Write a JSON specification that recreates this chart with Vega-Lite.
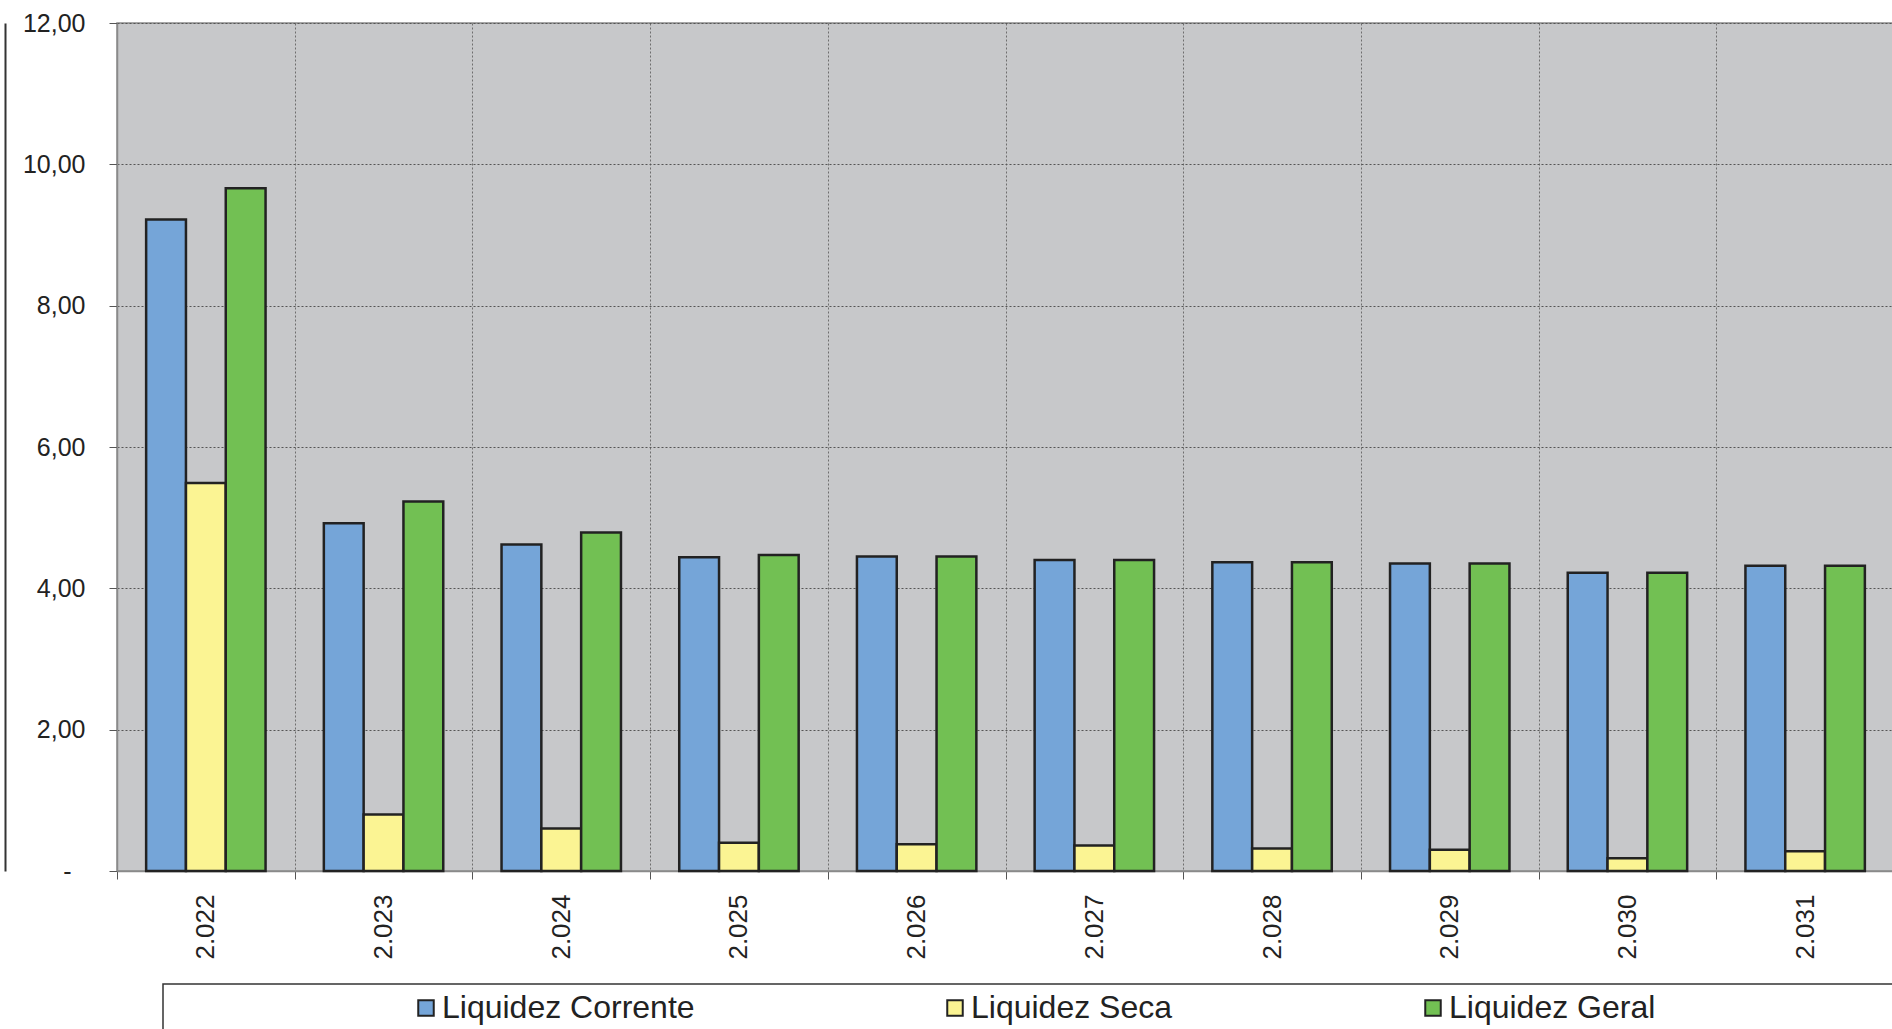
{
  "$schema": "https://vega.github.io/schema/vega-lite/v6.json",
  "autosize": {"type": "none"},
  "padding": {"left": 117, "top": 23, "right": 0, "bottom": 158},
  "width": 1777,
  "height": 848,
  "background": "white",
  "config": {
    "font": "Liberation Sans",
    "view": {"fill": "#C7C8CA", "stroke": "#8A8A8A", "strokeWidth": 1.5}
  },
  "data": {
    "values": [
      {"ano": "2.022", "indicador": "Liquidez Corrente", "valor": 9.22},
      {"ano": "2.022", "indicador": "Liquidez Seca", "valor": 5.49},
      {"ano": "2.022", "indicador": "Liquidez Geral", "valor": 9.66},
      {"ano": "2.023", "indicador": "Liquidez Corrente", "valor": 4.92},
      {"ano": "2.023", "indicador": "Liquidez Seca", "valor": 0.80},
      {"ano": "2.023", "indicador": "Liquidez Geral", "valor": 5.23},
      {"ano": "2.024", "indicador": "Liquidez Corrente", "valor": 4.62},
      {"ano": "2.024", "indicador": "Liquidez Seca", "valor": 0.60},
      {"ano": "2.024", "indicador": "Liquidez Geral", "valor": 4.79},
      {"ano": "2.025", "indicador": "Liquidez Corrente", "valor": 4.44},
      {"ano": "2.025", "indicador": "Liquidez Seca", "valor": 0.40},
      {"ano": "2.025", "indicador": "Liquidez Geral", "valor": 4.47},
      {"ano": "2.026", "indicador": "Liquidez Corrente", "valor": 4.45},
      {"ano": "2.026", "indicador": "Liquidez Seca", "valor": 0.38},
      {"ano": "2.026", "indicador": "Liquidez Geral", "valor": 4.45},
      {"ano": "2.027", "indicador": "Liquidez Corrente", "valor": 4.40},
      {"ano": "2.027", "indicador": "Liquidez Seca", "valor": 0.36},
      {"ano": "2.027", "indicador": "Liquidez Geral", "valor": 4.40},
      {"ano": "2.028", "indicador": "Liquidez Corrente", "valor": 4.37},
      {"ano": "2.028", "indicador": "Liquidez Seca", "valor": 0.32},
      {"ano": "2.028", "indicador": "Liquidez Geral", "valor": 4.37},
      {"ano": "2.029", "indicador": "Liquidez Corrente", "valor": 4.35},
      {"ano": "2.029", "indicador": "Liquidez Seca", "valor": 0.30},
      {"ano": "2.029", "indicador": "Liquidez Geral", "valor": 4.35},
      {"ano": "2.030", "indicador": "Liquidez Corrente", "valor": 4.22},
      {"ano": "2.030", "indicador": "Liquidez Seca", "valor": 0.18},
      {"ano": "2.030", "indicador": "Liquidez Geral", "valor": 4.22},
      {"ano": "2.031", "indicador": "Liquidez Corrente", "valor": 4.32},
      {"ano": "2.031", "indicador": "Liquidez Seca", "valor": 0.28},
      {"ano": "2.031", "indicador": "Liquidez Geral", "valor": 4.32}
    ]
  },
  "encoding": {
    "x": {
      "field": "ano",
      "type": "nominal",
      "scale": {"paddingInner": 0, "paddingOuter": 0},
      "axis": {
        "title": null,
        "tickBand": "extent",
        "labelAngle": -90,
        "labelFontSize": 26,
        "labelColor": "#222222",
        "labelPadding": 15,
        "tickSize": 8,
        "tickColor": "#555555",
        "domainColor": "#8A8A8A",
        "domainWidth": 1.5,
        "grid": true,
        "gridColor": "#6E6E6E",
        "gridDash": [2, 2],
        "gridWidth": 1
      }
    },
    "xOffset": {
      "field": "indicador",
      "type": "nominal",
      "sort": ["Liquidez Corrente", "Liquidez Seca", "Liquidez Geral"],
      "scale": {"paddingInner": 0, "paddingOuter": 0.732}
    },
    "y": {
      "field": "valor",
      "type": "quantitative",
      "scale": {"domain": [0, 12], "nice": false},
      "axis": {
        "title": null,
        "values": [0, 2, 4, 6, 8, 10, 12],
        "labelExpr": "datum.value == 0 ? '-\u00a0\u00a0\u200b' : replace(format(datum.value, '.2f'), '.', ',')",
        "labelFontSize": 25,
        "labelColor": "#222222",
        "labelPadding": 24,
        "tickSize": 8,
        "tickColor": "#555555",
        "domainColor": "#8A8A8A",
        "domainWidth": 1.5,
        "grid": true,
        "gridColor": "#555555",
        "gridDash": [2, 2],
        "gridWidth": 1
      }
    }
  },
  "layer": [
    {
      "mark": {"type": "bar", "stroke": "#222222", "strokeWidth": 2.5},
      "encoding": {
        "color": {
          "field": "indicador",
          "type": "nominal",
          "sort": ["Liquidez Corrente", "Liquidez Seca", "Liquidez Geral"],
          "scale": {
            "domain": ["Liquidez Corrente", "Liquidez Seca", "Liquidez Geral"],
            "range": ["#75A5D8", "#FBF493", "#72C053"]
          },
          "legend": {
            "orient": "none",
            "legendX": 46,
            "legendY": 961,
            "direction": "horizontal",
            "columns": 3,
            "columnPadding": 244,
            "title": "\u00a0\u200b",
            "titleOrient": "left",
            "titleFontSize": 10,
            "titlePadding": 239,
            "padding": 8,
            "strokeColor": "#333333",
            "fillColor": "white",
            "symbolType": "square",
            "symbolSize": 240,
            "symbolStrokeColor": "#222222",
            "symbolStrokeWidth": 2,
            "symbolOpacity": 1,
            "labelFontSize": 32,
            "labelColor": "#222222",
            "labelOffset": 0,
            "labelLimit": 2000,
            "labelExpr": "datum.label == 'Liquidez Geral' ? datum.label + '\u00a0\u00a0\u00a0\u00a0\u00a0\u00a0\u00a0\u00a0\u00a0\u00a0\u00a0\u00a0\u00a0\u00a0\u00a0\u00a0\u00a0\u00a0\u00a0\u00a0\u00a0\u00a0\u00a0\u00a0\u00a0\u00a0\u00a0\u00a0\u00a0\u00a0\u00a0\u00a0\u00a0\u00a0\u00a0\u00a0\u00a0\u00a0\u00a0\u00a0\u200b' : datum.label",
            "encode": {"legend": {"update": {"strokeWidth": {"value": 1.5}}}}
          }
        }
      }
    },
    {
      "mark": {"type": "bar", "opacity": 0},
      "encoding": {
        "y": {
          "field": "valor",
          "type": "quantitative",
          "axis": {
            "orient": "left",
            "offset": 112,
            "title": null,
            "labels": false,
            "ticks": false,
            "grid": false,
            "domain": true,
            "domainColor": "#333333",
            "domainWidth": 2
          }
        }
      }
    }
  ],
  "resolve": {"axis": {"y": "independent"}}
}
